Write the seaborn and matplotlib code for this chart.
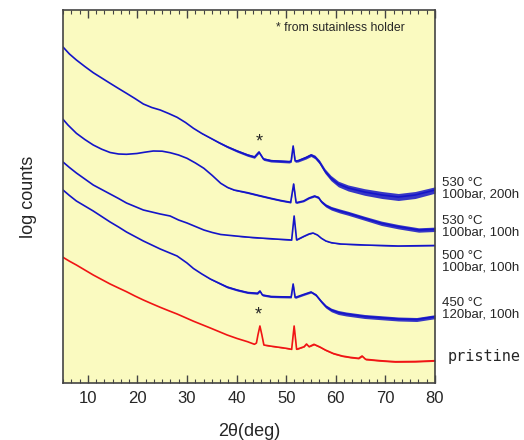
import matplotlib
matplotlib.use("Agg")
import matplotlib.pyplot as plt
from matplotlib.ticker import MultipleLocator, AutoMinorLocator
import numpy as np
import pandas as pd
import seaborn as sns

# 2-theta positions (deg), offset log-count traces and noise half-widths per sample
x_530_200 = [5, 6.3, 7.7, 9.4, 11.1, 12.8, 14.5, 16.2, 17.8, 19.5, 21.2, 22.9, 24.6, 26.3, 28,
             29.7, 31.3, 33.0, 34.7, 36.4, 38.1, 40.1, 42.2, 43.6, 44.5, 45.4, 46.9, 48.8,
             50.6, 51.0, 51.4, 51.8, 52.4, 54.0, 55.0, 55.8, 56.7, 57.8, 59.0, 60.5, 62.5,
             65.8, 69.3, 72.6, 76.0, 80]
y_530_200 = [336, 329, 323, 316.5, 310.3, 305, 299.7, 294.5, 289.7, 284.5, 279, 275.5, 273, 269.5, 265.7,
             260.5, 254.7, 249.5, 245, 240.5, 236.3, 232, 228, 226, 231, 224, 222.3, 221.8,
             221.3, 222, 237, 222, 222.3, 225.5, 228, 226, 221, 212, 205, 199, 195,
             191, 188, 186, 188, 193]
n_530_200 = [0, 0, 0, 0, 0, 0, 0, 0, 0, 0, 0, 0, 0, 0, 0,
             0, 0, 0.3, 0.5, 0.8, 1, 1.2, 1.3, 1.3, 1.3, 1.3, 1.3, 1.3,
             1.3, 1.3, 1.3, 1.3, 1.3, 1.5, 1.5, 1.8, 2, 2.3, 2.6, 2.8, 3,
             3.3, 3.5, 3.5, 3.5, 3.2]

x_530_100 = [5, 6.0, 7.7, 9.4, 11.1, 12.8, 14.5, 16.2, 17.8, 19.9, 21.5, 23.2, 25.0, 26.6,
             28.3, 30, 31.7, 33.4, 35.1, 36.8, 38.2, 39.5, 42.2, 44.5, 46.9, 48.9,
             50.9, 51.5, 52.0, 53.5, 54.6, 55.7, 56.5, 57.1, 58.0, 59.1, 60.8, 62.5,
             65.8, 69.2, 72.6, 76.7, 80]
y_530_100 = [263.7, 258, 249.7, 243.5, 238, 233.8, 230.5, 229, 228.7, 229.5, 230.8, 232, 231.8, 230.3,
             228, 224.7, 220, 214.7, 207.5, 199.7, 195.5, 193, 190.3, 187.5, 184.7, 182.5,
             180.7, 199, 180.3, 182, 185, 187, 185.5, 181.3, 177.5, 174.7, 172, 169.7,
             164.7, 159.7, 156.3, 153, 153.7]
n_530_100 = [0, 0, 0, 0, 0, 0, 0, 0, 0, 0, 0, 0, 0, 0,
             0, 0, 0, 0, 0, 0, 0.3, 0.5, 0.8, 0.8, 0.8, 0.8,
             0.8, 0.8, 0.8, 0.8, 0.8, 1, 1.2, 1.4, 1.6, 1.8, 2, 2,
             2, 2.2, 2.2, 2.2, 2.2]

x_500_100 = [5, 6.3, 7.7, 9.4, 11.1, 12.8, 14.5, 16.2, 17.8, 19.5, 21.2, 22.9, 24.6, 26.6,
             28.3, 30, 31.7, 33.4, 35.1, 36.8, 38.8, 40.9, 43.2, 45.6, 48.4,
             51.1, 51.6, 52.1, 53.5, 54.6, 55.4, 56.3, 57.1, 58.0, 59.1, 61.0,
             65.8, 72.6, 80]
y_500_100 = [221, 215.5, 210, 204, 198, 193.5, 189, 184.5, 180, 176.5, 173, 171, 169, 167,
             163, 160, 156.5, 153, 150.5, 148.5, 147.5, 146.5, 145.5, 144.7, 143.8,
             143, 167, 143, 146.5, 149, 150, 148, 144.7, 142, 140.3, 139,
             138, 137, 137.5]
n_500_100 = [0] * 21 + [0.3] * 18

x_450_120 = [5, 6.3, 7.7, 9.4, 11.1, 12.8, 14.5, 16.2, 17.8, 19.5, 21.2, 22.9, 24.6, 26.3, 28,
             30, 31.3, 33.0, 34.7, 36.4, 38.1, 40.1, 42.2, 44.2, 44.7, 45.2, 46.9, 48.9,
             51.0, 51.4, 51.8, 53.5, 55.0, 56.0, 57.1, 58.0, 59.1, 60.5, 62.1, 65.8,
             72.6, 76.3, 80]
y_450_120 = [193, 187.5, 182, 177, 172, 166.5, 161, 156, 151, 146.5, 142, 138, 134, 130.5, 127,
             120, 114.5, 109, 104, 100, 96, 93, 90.5, 89.7, 92, 88, 86.5, 86.2,
             86, 99, 85.5, 88.5, 91, 88, 81.3, 76.5, 73, 70.5, 69, 66.5,
             64, 63.5, 66.3]
n_450_120 = [0] * 18 + [0.5, 0.8, 1, 1, 1, 1, 1, 1, 1, 1,
                        1, 1, 1, 1, 1, 1.2, 1.4, 1.6, 1.8, 2, 2, 2,
                        2, 2, 2]

x_pristine = [5, 6.3, 7.7, 9.4, 11.1, 12.8, 14.5, 16.2, 17.8, 19.5, 21.2, 22.9, 24.6, 26.3, 28,
              29.7, 31.3, 33.0, 34.7, 36.4, 38.1, 40.1, 42.2, 43.6, 44.0, 44.3, 44.7, 45.1,
              45.5, 47.0, 48.6, 50.0, 51.1, 51.6, 52.1, 53.6, 54.1, 54.6, 55.6, 56.8, 57.9,
              59.5, 61.3, 63.0, 64.6, 65.3, 66.0, 69.0, 72.0, 76.0, 80]
y_pristine = [125.7, 121.8, 118, 113, 108, 103.5, 99, 95, 91.3, 87, 83, 79.3, 75.7, 72.3, 69,
              65.3, 61.8, 58.4, 55, 51.5, 48, 44.5, 41.3, 38.7, 40, 48, 57, 48,
              38, 36.8, 35.7, 34.7, 33.7, 57, 33.7, 36.3, 39, 36.3, 38.7, 36, 33,
              29.5, 27, 25.6, 24.7, 27, 23.7, 22.3, 21.3, 21.5, 22.3]
n_pristine = [0] * 28 + [0.4] * 10 + [0.7] * 13

sample_labels = ["530 °C\n100bar, 200h", "530 °C\n100bar, 100h", "500 °C\n100bar, 100h",
                 "450 °C\n120bar, 100h", "pristine"]
label_y = [194, 156, 121.5, 74, 27]

BLUE = "#1414C8"
RED = "#F01414"
series = [
    (x_530_200, y_530_200, n_530_200, BLUE),
    (x_530_100, y_530_100, n_530_100, BLUE),
    (x_500_100, y_500_100, n_500_100, BLUE),
    (x_450_120, y_450_120, n_450_120, BLUE),
    (x_pristine, y_pristine, n_pristine, RED),
]

sns.set_style("white")
plt.rcParams["font.family"] = ["Liberation Sans", "DejaVu Sans"]

fig = plt.figure(figsize=(5.24, 4.40), dpi=100)
ax = fig.add_axes([63 / 524, 1 - 383 / 440, (435 - 63) / 524, (383 - 10) / 440])
ax.set_facecolor("#FAFAC0")

for xs, ys, ns, col in series:
    df = pd.DataFrame({"two_theta": xs, "counts": ys})
    lo = np.array(ys) - np.array(ns)
    hi = np.array(ys) + np.array(ns)
    ax.fill_between(xs, lo, hi, color=col, linewidth=0, alpha=0.85)
    sns.lineplot(data=df, x="two_theta", y="counts", ax=ax, color=col,
                 linewidth=1.2, estimator=None, sort=False)

ax.set_xlim(5, 80)
ax.set_ylim(0, 373)
ax.set_yticks([])
ax.xaxis.set_major_locator(MultipleLocator(10))
ax.xaxis.set_minor_locator(AutoMinorLocator(6))
ax.tick_params(axis="x", which="both", direction="in", top=True, bottom=True,
               color="#444444", labelsize=12, pad=6)
ax.tick_params(axis="x", which="major", length=6, width=1)
ax.tick_params(axis="x", which="minor", length=3, width=0.8)
for sp in ax.spines.values():
    sp.set_color("#444444")
    sp.set_linewidth(1.2)

ax.set_xlabel("2θ(deg)", fontsize=13, labelpad=12)
ax.set_ylabel("log counts", fontsize=13, labelpad=19)

ax.text(47.9, 355, "* from sutainless holder", fontsize=8.8, ha="left", va="center")
ax.text(44.5, 241, "*", fontsize=13, ha="center", va="center")
ax.text(44.3, 68, "*", fontsize=13, ha="center", va="center")

for lab, ly in zip(sample_labels, label_y):
    if lab == "pristine":
        ax.text(82.6, ly, lab, fontsize=11, family="DejaVu Sans Mono",
                ha="left", va="center", clip_on=False)
    else:
        ax.text(81.5, ly, lab, fontsize=9.5, ha="left", va="center",
                linespacing=0.95, clip_on=False)

fig.savefig("out.png", dpi=100)
